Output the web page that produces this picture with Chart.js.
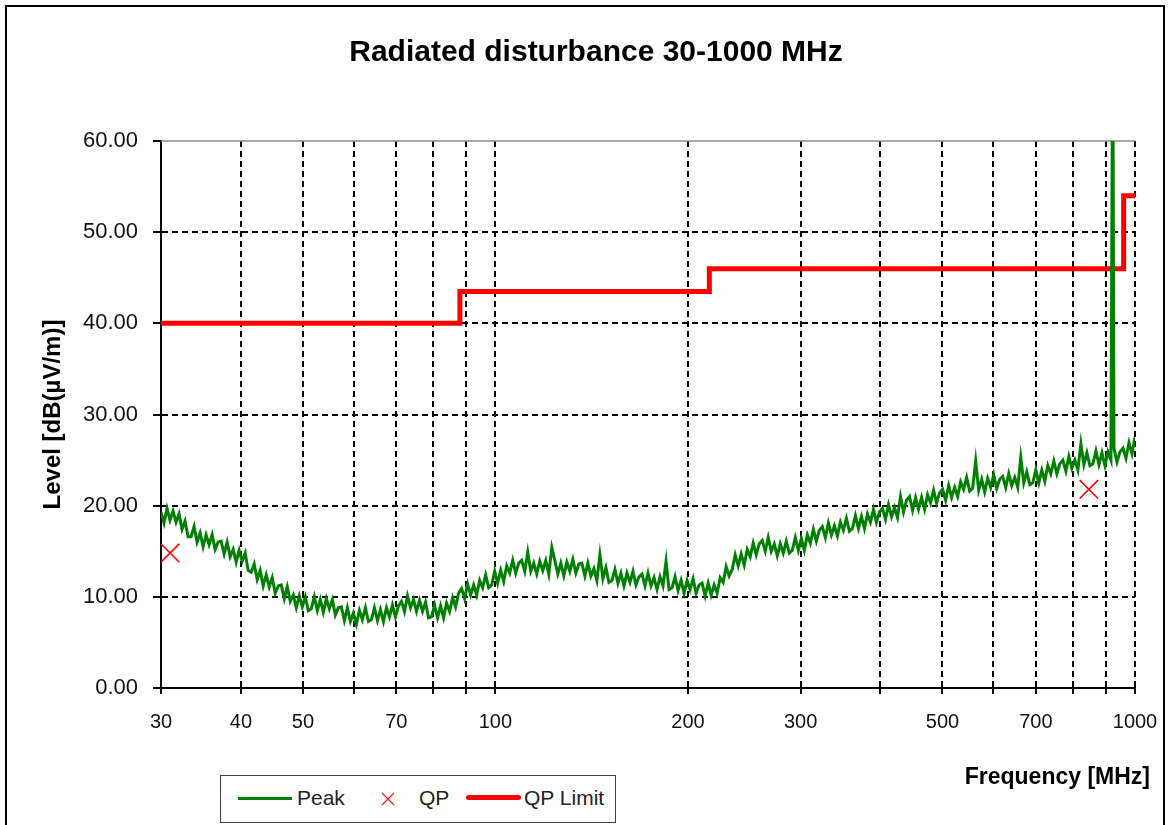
<!DOCTYPE html>
<html>
<head>
<meta charset="utf-8">
<title>Radiated disturbance 30-1000 MHz</title>
<script src="https://cdn.jsdelivr.net/npm/chart.js@4.4.1/dist/chart.umd.min.js"></script>
<style>
  html, body { margin: 0; padding: 0; background: #fff; }
  #wrap { position: relative; width: 1168px; height: 825px; overflow: hidden; }
  #frame { position: absolute; left: 5px; top: 5px; width: 1156px; height: 900px; border: 2px solid #000; }
  #graphCanvas { position: absolute; left: 0; top: 0; }
  #legend {
    position: absolute; left: 220px; top: 775px; width: 394px; height: 46px;
    border: 1.5px solid #444; background: #fff;
    font-family: "Liberation Sans", Arial, sans-serif; font-size: 21px; color: #222;
  }
  #legend .txt { position: absolute; top: 10px; line-height: 24px; white-space: nowrap; }
  #legend .peak-line { position: absolute; left: 17px; top: 21px; width: 54px; height: 3px; background: #008000; }
  #legend .limit-line { position: absolute; left: 245px; top: 19px; width: 55px; height: 5px; border-radius: 3px; background: #ff0000; }
  #legend svg { position: absolute; left: 160px; top: 16px; }
</style>
</head>
<body>
<div id="wrap">
  <div id="frame"></div>
  <canvas id="graphCanvas" width="1168" height="825"></canvas>
  <div id="legend">
    <div class="peak-line"></div><span class="txt" style="left:76px">Peak</span>
    <svg width="14" height="14"><path d="M1 1 L13 13 M13 1 L1 13" stroke="#ff2020" stroke-width="1.3" fill="none"/></svg>
    <span class="txt" style="left:198px">QP</span>
    <div class="limit-line"></div><span class="txt" style="left:303px">QP Limit</span>
  </div>
</div>
<script>
const chartTitle = 'Radiated disturbance 30-1000 MHz';
const xTitle = 'Frequency [MHz]';
const yTitle = 'Level [dB(µV/m)]';

// axis layout
const xGridValues = [30, 40, 50, 60, 70, 80, 90, 100, 200, 300, 400, 500, 600, 700, 800, 900, 1000];
const xTickLabels = [30, 40, 50, 70, 100, 200, 300, 500, 700, 1000];
const yMin = 0, yMax = 60, yStep = 10;

// peak sweep 30 - 1000 MHz, log spaced receiver steps
const sweepStart = 30, sweepStop = 1000;
const peakLevels = [
  19.3, 18.1, 19.7, 18.4, 19.4, 18.2, 19.1, 17.4, 18.3, 16.6,
  16.6, 17.7, 16.0, 17.0, 15.5, 16.8, 15.7, 16.8, 15.2, 16.0,
  16.1, 14.7, 16.0, 14.4, 15.2, 13.8, 15.1, 13.9, 14.8, 12.9,
  12.7, 13.6, 11.9, 12.9, 11.2, 12.4, 11.1, 12.1, 10.4, 11.2,
  11.3, 9.8, 11.1, 9.5, 10.2, 8.8, 10.1, 8.9, 10.0, 8.5,
  8.7, 10.0, 8.5, 9.7, 8.3, 9.8, 8.7, 9.7, 8.0, 8.8,
  8.9, 7.4, 8.8, 7.3, 8.2, 7.0, 8.5, 7.5, 8.8, 7.3,
  7.5, 8.8, 7.4, 8.6, 7.3, 8.8, 7.8, 9.1, 7.8, 9.0,
  9.5, 8.4, 10.1, 8.8, 9.7, 8.4, 9.6, 8.4, 9.4, 7.7,
  7.8, 9.1, 7.7, 9.0, 7.7, 9.3, 8.4, 9.9, 8.9, 10.4,
  10.9, 9.8, 11.4, 10.2, 11.3, 10.2, 11.8, 11.0, 12.4, 11.0,
  11.3, 12.8, 11.5, 12.9, 11.7, 13.4, 12.6, 14.0, 12.6, 13.7,
  14.0, 12.8, 14.9, 12.8, 13.7, 12.5, 13.9, 12.9, 14.0, 12.5,
  15.4, 14.0, 12.5, 13.7, 12.3, 13.8, 12.8, 14.1, 12.6, 13.6,
  13.7, 12.3, 13.7, 12.3, 13.1, 11.8, 14.6, 12.0, 13.2, 11.6,
  11.8, 13.0, 11.5, 12.6, 11.2, 12.6, 11.6, 12.8, 11.3, 12.2,
  12.5, 11.2, 12.6, 11.2, 12.1, 10.8, 12.2, 11.2, 13.9, 10.8,
  11.0, 12.2, 10.7, 11.8, 10.4, 11.8, 10.8, 12.0, 10.4, 11.3,
  11.5, 10.1, 11.5, 10.2, 11.3, 10.4, 12.1, 11.6, 13.3, 12.3,
  13.0, 14.6, 13.4, 14.7, 13.5, 15.2, 14.4, 15.9, 14.6, 15.8,
  16.2, 15.0, 16.5, 15.0, 15.8, 14.5, 15.8, 14.8, 16.1, 14.8,
  15.1, 16.5, 15.1, 16.4, 15.1, 16.8, 15.9, 17.4, 16.1, 17.3,
  17.7, 16.5, 18.1, 16.8, 17.8, 16.7, 18.2, 17.3, 18.6, 17.2,
  17.5, 18.9, 17.5, 18.8, 17.5, 19.1, 18.2, 19.6, 18.2, 19.3,
  19.7, 18.5, 20.1, 18.8, 19.8, 18.7, 21.0, 19.3, 20.6, 21.0,
  19.5, 20.9, 19.6, 20.9, 19.6, 21.2, 20.3, 21.7, 20.3, 21.4,
  21.8, 20.6, 22.2, 20.9, 22.0, 21.0, 22.6, 21.8, 23.1, 21.6,
  21.9, 24.9, 21.7, 22.9, 21.5, 23.0, 22.0, 23.4, 21.9, 22.9,
  23.2, 22.0, 23.5, 22.2, 23.1, 22.0, 25.3, 22.5, 23.7, 22.3,
  22.5, 23.9, 22.5, 23.9, 22.7, 24.4, 23.5, 24.9, 23.5, 24.6,
  25.0, 23.8, 25.4, 24.1, 25.0, 23.9, 26.8, 24.5, 25.8, 24.4,
  24.6, 26.0, 24.5, 25.8, 24.4, 25.9, 25.0, 26.3, 24.8, 25.9,
  26.3, 25.2, 26.9, 25.7, 27.5
];
// single narrow emission that goes off the top of the plot
const spikeFreq = [923];
const spikeLevel = [75];

const qpFreq = [31.0, 847];
const qpLevel = [14.8, 21.8];

const limitFreq = [30, 88, 88, 216, 216, 960, 960, 1000];
const limitLevel = [40, 40, 43.5, 43.5, 46, 46, 54, 54];

var fontFamily = '"Liberation Sans", Arial, sans-serif';
Chart.defaults.font.family = fontFamily;
Chart.defaults.color = '#111';

var peakPoints = [];
var n = peakLevels.length;
for (var i = 0; i < n; i++) {
  var f = sweepStart * Math.pow(sweepStop / sweepStart, i / (n - 1));
  peakPoints.push({x: f, y: peakLevels[i]});
}
for (var j = 0; j < spikeFreq.length; j++) {
  peakPoints.push({x: spikeFreq[j], y: spikeLevel[j]});
}
peakPoints.sort(function (a, b) { return a.x - b.x; });

var qpPoints = qpFreq.map(function (f, k) { return {x: f, y: qpLevel[k]}; });
var limitPoints = limitFreq.map(function (f, k) { return {x: f, y: limitLevel[k]}; });

// grey line along the top of the plot area
const plotTopLine = {
  id: 'plotTopLine',
  beforeDatasetsDraw(chart) {
    const a = chart.chartArea, ctx = chart.ctx;
    ctx.save();
    ctx.strokeStyle = '#8c8c8c';
    ctx.lineWidth = 1.5;
    ctx.beginPath();
    ctx.moveTo(a.left, a.top);
    ctx.lineTo(a.right, a.top);
    ctx.stroke();
    ctx.restore();
  }
};

var graphTarget = document.getElementById('graphCanvas');
window.bar = new Chart(graphTarget, {
  type: 'line',
  data: {
    datasets: [
      {
        label: 'QP',
        data: qpPoints,
        showLine: false,
        pointStyle: 'crossRot',
        pointRadius: 13,
        pointBorderColor: '#ff0000',
        pointBackgroundColor: '#ff0000',
        pointBorderWidth: 1.6,
        order: 0
      },
      {
        label: 'Peak',
        data: peakPoints,
        borderColor: '#008000',
        borderWidth: 3,
        pointRadius: 0,
        tension: 0,
        order: 1
      },
      {
        label: 'QP Limit',
        data: limitPoints,
        borderColor: '#ff0000',
        borderWidth: 5,
        pointRadius: 0,
        tension: 0,
        order: 2
      }
    ]
  },
  options: {
    responsive: false,
    animation: false,
    events: [],
    layout: { padding: { left: 42, right: 18, top: 0, bottom: 0 } },
    plugins: {
      legend: { display: false },
      tooltip: { enabled: false },
      title: {
        display: true,
        text: chartTitle,
        color: '#000',
        font: { size: 30, weight: 'bold', lineHeight: '36px' },
        padding: { top: 35, bottom: 70 }
      },
      subtitle: {
        display: true,
        text: xTitle,
        position: 'bottom',
        align: 'end',
        color: '#000',
        font: { size: 23, weight: 'bold', lineHeight: '28px' },
        padding: { top: 0, bottom: 33 }
      }
    },
    scales: {
      x: {
        type: 'logarithmic',
        min: sweepStart,
        max: sweepStop,
        afterBuildTicks: function (scale) {
          scale.ticks = xGridValues.map(function (v) { return {value: v}; });
        },
        afterFit: function (scale) {
          scale.height = 76;
          scale.paddingLeft = 0;
          scale.paddingRight = 33;
        },
        ticks: {
          autoSkip: false,
          maxRotation: 0,
          minRotation: 0,
          padding: 16,
          color: '#111',
          font: { size: 20 },
          callback: function (value) {
            return xTickLabels.indexOf(value) >= 0 ? String(value) : '';
          }
        },
        grid: {
          color: '#000',
          lineWidth: 2,
          tickLength: 6,
          tickColor: '#000',
          tickWidth: 2
        },
        border: { display: true, color: '#000', width: 2, dash: [6, 4] }
      },
      y: {
        min: yMin,
        max: yMax,
        afterFit: function (scale) {
          scale.width = 119;
        },
        ticks: {
          stepSize: yStep,
          padding: 15,
          color: '#111',
          font: { size: 22 },
          callback: function (value) { return value.toFixed(2); }
        },
        grid: {
          color: function (ctx) {
            return ctx.tick && ctx.tick.value === yMax ? 'rgba(0,0,0,0)' : '#000';
          },
          lineWidth: 2,
          tickLength: 8,
          tickColor: '#000',
          tickWidth: 2
        },
        border: { display: true, color: '#000', width: 2, dash: [6, 4] },
        title: {
          display: true,
          text: yTitle,
          color: '#000',
          font: { size: 24, weight: 'bold', lineHeight: '22px' },
          padding: 0
        }
      }
    }
  },
  plugins: [plotTopLine]
});
</script>
</body>
</html>
